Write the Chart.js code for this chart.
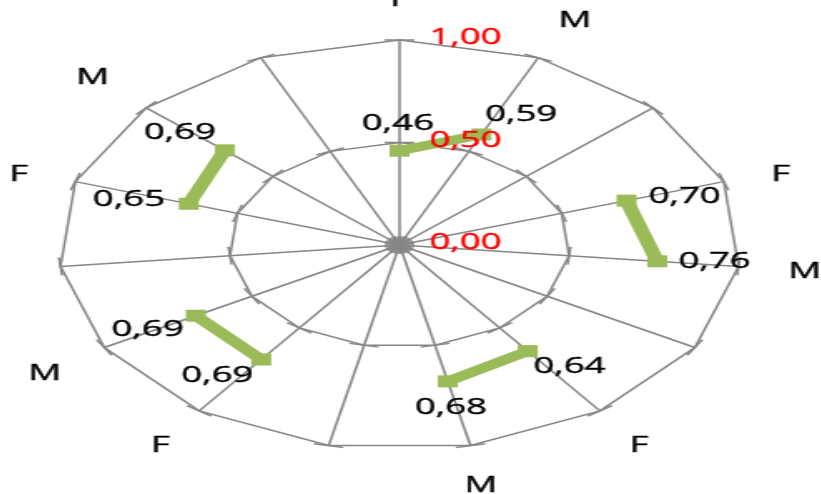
<!DOCTYPE html>
<html>
<head>
<meta charset="utf-8">
<script src="https://cdn.jsdelivr.net/npm/chart.js@4"></script>
<style>
  html, body { margin: 0; padding: 0; background: #fff; overflow: hidden; width: 821px; height: 494px; }
  /* the original picture is stretched sideways, so the chart is too */
  #wrap { position: absolute; left: -116.5px; top: 0; width: 620px; height: 494px; transform: scaleX(1.663); transform-origin: 0 0; }
</style>
</head>
<body>
<div id="wrap"><canvas id="radarChart"></canvas></div>
<script>
const labels = ['F', 'M', '', 'F', 'M', '', 'F', 'M', '', 'F', 'M', '', 'F', 'M', ''];
const values = [0.46, 0.59, null, 0.70, 0.76, null, 0.64, 0.68, null, 0.69, 0.69, null, 0.65, 0.69, null];
const tickValues = [0, 0.5, 1];

// where each value label sits relative to its point (unstretched px)
const labelOffsets = [[-1, -27], [24, -20], null, [35, -4], [34.5, 0], null, [25, 16], [2, 26], null,
  [-26.5, 16], [-29, 14], null, [-36, -4], [-27, -18], null];

const fmt = (v) => v.toFixed(2).replace('.', ',');
const FONT = "'Open Sans', sans-serif";
const GRID = '#868686';

Chart.defaults.font.family = FONT;

function drawText(ctx, txt, x, y) {
  ctx.fillText(txt, x, y);
  ctx.strokeText(txt, x, y);
}

// small cross marks on each spoke at every gridline
const crossTicks = {
  id: 'crossTicks',
  beforeDatasetsDraw(chart) {
    const r = chart.scales.r;
    const ctx = chart.ctx;
    ctx.save();
    ctx.strokeStyle = GRID;
    ctx.lineWidth = 1.5;
    labels.forEach((_, i) => {
      const a = r.getIndexAngle(i) - Math.PI / 2;
      const px = -Math.sin(a);
      const py = Math.cos(a);
      tickValues.forEach((v) => {
        const p = r.getPointPositionForValue(i, v);
        ctx.beginPath();
        ctx.moveTo(p.x - px * 9, p.y - py * 9);
        ctx.lineTo(p.x + px * 9, p.y + py * 9);
        ctx.stroke();
      });
    });
    ctx.restore();
  },
};

// category labels, red scale labels and value labels
const textLabels = {
  id: 'textLabels',
  afterDatasetsDraw(chart) {
    const r = chart.scales.r;
    const ctx = chart.ctx;
    ctx.save();
    ctx.font = `22px ${FONT}`;
    ctx.textBaseline = 'middle';
    ctx.lineWidth = 0.4;

    ctx.fillStyle = '#000000';
    ctx.strokeStyle = '#000000';
    labels.forEach((lab, i) => {
      if (!lab) return;
      const ang = r.getIndexAngle(i);
      const s = Math.sin(ang);
      const c = Math.cos(ang);
      const p = r.getPointPosition(i, r.drawingArea + 30);
      ctx.textAlign = Math.abs(s) < 0.3 ? 'center' : s > 0 ? 'left' : 'right';
      let y = p.y + 2;
      if (c > 0.45) y = p.y - 10;
      else if (c < -0.45) y = p.y + 11;
      drawText(ctx, lab, p.x, y);
    });

    ctx.textAlign = 'left';
    ctx.fillStyle = '#FF0000';
    ctx.strokeStyle = '#FF0000';
    tickValues.forEach((v) => {
      const y = r.yCenter - r.getDistanceFromCenterForValue(v);
      drawText(ctx, fmt(v), r.xCenter + 18, y - 2);
    });

    ctx.textAlign = 'center';
    ctx.fillStyle = '#000000';
    ctx.strokeStyle = '#000000';
    const meta = chart.getDatasetMeta(0);
    meta.data.forEach((pt, i) => {
      if (values[i] === null || !labelOffsets[i]) return;
      const [dx, dy] = labelOffsets[i];
      drawText(ctx, fmt(values[i]), pt.x + dx, pt.y + dy);
    });
    ctx.restore();
  },
};

new Chart(document.getElementById('radarChart'), {
  type: 'radar',
  data: {
    labels: labels,
    datasets: [
      {
        data: values,
        borderColor: '#9BBB59',
        backgroundColor: '#9BBB59',
        borderWidth: 9,
        fill: false,
        spanGaps: false,
        pointStyle: 'rect',
        pointRadius: 8.5,
        pointBorderWidth: 0,
        pointBackgroundColor: '#9BBB59',
      },
    ],
  },
  options: {
    responsive: true,
    maintainAspectRatio: false,
    animation: false,
    layout: { padding: { top: 40, bottom: 44, left: 105, right: 105 } },
    plugins: {
      legend: { display: false },
      tooltip: { enabled: false },
    },
    scales: {
      r: {
        min: 0,
        max: 1,
        ticks: { stepSize: 0.5, display: false },
        grid: { color: GRID, lineWidth: 1.5, circular: false },
        angleLines: { color: GRID, lineWidth: 1.5 },
        pointLabels: { display: false },
      },
    },
  },
  plugins: [crossTicks, textLabels],
});
</script>
</body>
</html>
